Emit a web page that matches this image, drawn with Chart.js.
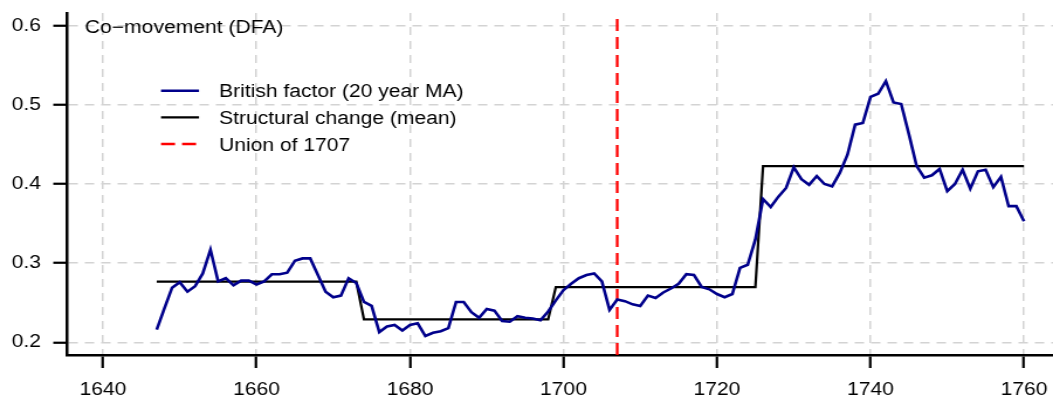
<!DOCTYPE html>
<html><head><meta charset="utf-8">
<script src="https://cdn.jsdelivr.net/npm/chart.js@4/dist/chart.umd.min.js"></script>
<style>html,body{margin:0;padding:0;background:#fff;overflow:hidden}</style>
</head><body>
<canvas id="c" width="900" height="410" style="display:block;width:1053px;height:410px"></canvas>
<script>
// ---- data ----
const years = [1647,1648,1649,
 1650,1651,1652,1653,1654,1655,1656,1657,1658,1659,
 1660,1661,1662,1663,1664,1665,1666,1667,1668,1669,
 1670,1671,1672,1673,1674,1675,1676,1677,1678,1679,
 1680,1681,1682,1683,1684,1685,1686,1687,1688,1689,
 1690,1691,1692,1693,1694,1695,1696,1697,1698,1699,
 1700,1701,1702,1703,1704,1705,1706,1707,1708,1709,
 1710,1711,1712,1713,1714,1715,1716,1717,1718,1719,
 1720,1721,1722,1723,1724,1725,1726,1727,1728,1729,
 1730,1731,1732,1733,1734,1735,1736,1737,1738,1739,
 1740,1741,1742,1743,1744,1745,1746,1747,1748,1749,
 1750,1751,1752,1753,1754,1755,1756,1757,1758,1759,1760];
const britishFactor = [0.216,0.243,0.269,
 0.276,0.264,0.271,0.287,0.317,0.277,0.281,0.272,0.278,0.278,
 0.273,0.277,0.286,0.286,0.288,0.303,0.306,0.306,0.285,0.264,
 0.257,0.259,0.281,0.275,0.251,0.246,0.213,0.220,0.222,0.215,
 0.222,0.224,0.208,0.212,0.214,0.218,0.251,0.251,0.238,0.231,
 0.242,0.240,0.227,0.226,0.233,0.231,0.230,0.228,0.239,0.253,
 0.266,0.274,0.281,0.285,0.287,0.277,0.241,0.254,0.252,0.248,
 0.246,0.259,0.256,0.263,0.268,0.274,0.286,0.285,0.270,0.267,
 0.261,0.257,0.261,0.294,0.298,0.330,0.381,0.371,0.384,0.395,
 0.421,0.406,0.399,0.410,0.400,0.397,0.414,0.437,0.475,0.477,
 0.510,0.514,0.530,0.503,0.501,0.463,0.423,0.408,0.411,0.419,
 0.391,0.400,0.418,0.394,0.416,0.418,0.396,0.409,0.372,0.372,0.353];
// structural change (mean) regimes
const segStart = [1647,1674,1699,1726];
const segEnd   = [1673,1698,1725,1760];
const segMean  = [0.2766,0.2290,0.2698,0.4226];
const unionYear = 1707;
const xTicks = [1640,1660,1680,1700,1720,1740,1760];
const yTicks = [0.2,0.3,0.4,0.5,0.6];
const xMin = 1635.27, xMax = 1763.78;
const yMin = 0.184, yMax = 0.616;
const panelTitle = 'Co\u2212movement (DFA)';
const seriesLabels = ['British factor (20 year MA)','Structural change (mean)','Union of 1707'];

// ---- build datasets from arrays ----
const factorPts = years.map((y,i)=>({x:y, y:britishFactor[i]}));
const structPts = [];
segStart.forEach((s,i)=>{ structPts.push({x:s,y:segMean[i]}); structPts.push({x:segEnd[i],y:segMean[i]}); });
const unionPts = [{x:unionYear,y:yMin},{x:unionYear,y:yMax}];

const FONT = '"Liberation Sans", Arial, Helvetica, sans-serif';
Chart.defaults.font.family = FONT;
Chart.defaults.font.size = 18;
Chart.defaults.color = '#000';

const overlay = {
  id:'overlay',
  afterDraw(chart){
    const ctx = chart.ctx;
    ctx.save();
    ctx.font = '18px ' + FONT;
    ctx.fillStyle = '#000';
    ctx.textAlign = 'left';
    ctx.textBaseline = 'alphabetic';
    ctx.fillText(panelTitle, 72.6, 32.5);
    const rowsY = [90.7, 117.3, 144];
    chart.data.datasets.forEach((ds,i)=>{
      const y = rowsY[i];
      ctx.beginPath();
      ctx.strokeStyle = ds.borderColor;
      ctx.lineWidth = ds.borderWidth;
      ctx.setLineDash(ds.borderDash || []);
      ctx.moveTo(137.6, y); ctx.lineTo(170.1, y);
      ctx.stroke();
      ctx.setLineDash([]);
      ctx.fillText(ds.label, 187.2, y + 6.5);
    });
    ctx.restore();
  }
};

function noPad(s){ s.paddingTop = 0; s.paddingBottom = 0; s.paddingLeft = 0; s.paddingRight = 0; }

new Chart(document.getElementById('c'), {
  type:'line',
  data:{datasets:[
    {label:seriesLabels[0], data:factorPts, borderColor:'#00008B', borderWidth:2.6, pointRadius:0, tension:0},
    {label:seriesLabels[1], data:structPts, borderColor:'#000000', borderWidth:2.2, pointRadius:0, tension:0},
    {label:seriesLabels[2], data:unionPts, borderColor:'#FF0000', borderWidth:2.3, borderDash:[12,6], pointRadius:0, tension:0}
  ]},
  options:{
    responsive:false, animation:false,
    layout:{padding:{top:13,left:0,right:0,bottom:0}},
    plugins:{legend:{display:false}, tooltip:{enabled:false}},
    scales:{
      x:{type:'linear', min:xMin, max:xMax,
        afterBuildTicks:(s)=>{ s.ticks = xTicks.map(v=>({value:v})); },
        afterFit:(s)=>{ s.height = 55; noPad(s); },
        grid:{color:'#d3d3d3', lineWidth:1.5, drawTicks:true, tickLength:13, tickColor:'#000', tickWidth:2.2},
        border:{display:true, color:'#000', width:2.5, dash:[8,6]},
        ticks:{padding:11, maxRotation:0, autoSkip:false, font:{size:18}, color:'#000', callback:(v)=>String(v)}
      },
      y:{type:'linear', min:yMin, max:yMax,
        afterBuildTicks:(s)=>{ s.ticks = yTicks.map(v=>({value:v})); },
        afterFit:(s)=>{ s.width = 57; noPad(s); },
        grid:{color:'#d3d3d3', lineWidth:1.5, drawTicks:true, tickLength:11.5, tickColor:'#000', tickWidth:2.2},
        border:{display:true, color:'#000', width:2.5, dash:[8,6]},
        ticks:{padding:10.5, autoSkip:false, font:{size:18}, color:'#000', callback:(v)=>Number(v).toFixed(1)}
      }
    }
  },
  plugins:[overlay]
});
</script>
</body></html>
